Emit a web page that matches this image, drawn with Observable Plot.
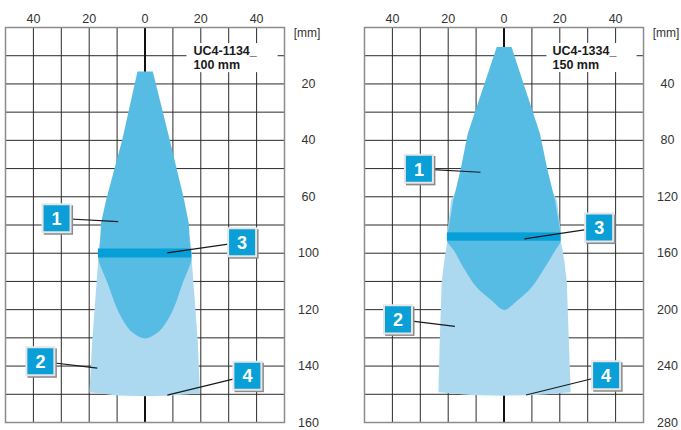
<!DOCTYPE html>
<html><head><meta charset="utf-8">
<script src="https://cdn.jsdelivr.net/npm/d3@7"></script>
<script src="https://cdn.jsdelivr.net/npm/@observablehq/plot@0.6"></script>
<style>
body{margin:0;background:#fff;}
#wrap{position:relative;width:681px;height:430px;}
#wrap > div{position:absolute;top:0;}
</style></head>
<body><div id="wrap"><div id="p1" style="left:0"></div><div id="p2" style="left:340px"></div></div>
<script>
// ---- shared axis data ----
const xTicks = [-40, -20, 0, 20, 40];
const xGrid = [-40, -30, -20, -10, 10, 20, 30, 40];

// ---- left panel (UC4-1134_, 100 mm) ----
const leftTitle = "UC4-1134_\n100 mm";
const leftYTicks = [20, 40, 60, 80, 100, 120, 140];
const leftYLabels = ["20", "40", "60", "100", "120", "140", "160"];
const leftYGrid = [10, 20, 30, 40, 50, 60, 70, 80, 90, 100, 110, 120, 130];
// dark zone (1) above the band
const leftDarkUpper = [
  [-2.7,15.6],[2.8,15.6],[8.9,40],[14.0,61],[15.7,69.5],[16.2,78.5],[16.7,80.5],
  [-16.7,80.5],[-16.2,78.5],[-15.8,69.5],[-13.9,61],[-8.2,40]
];
// dark zone (1) below the band
const leftDarkLower = [
  [-16,79.5],[16,79.5],[16.7,81.7],[13.4,90.9],[9.9,100.4],[6.3,106.3],[3.8,108.6],[0,110.2],
  [-3.8,108.6],[-6.2,106.3],[-9.7,100.4],[-13.3,90.9],[-16.7,81.7]
];
// light zone (2)
const leftLight = [
  [-14.3,64],[14.3,64],[16.7,78.5],[16.7,81.7],[18.9,111],[19.7,129.6],[10,130.4],
  [0,130.7],[-10,130.4],[-19.9,129.3],[-18.9,111],[-16.7,81.7],[-16.7,78.5]
];
const leftBand = [{x1:-16.7, x2:16.7, y1:78.5, y2:81.7}];
const leftTitleBox = [{x1:15.05, x2:47.7, y1:5.7, y2:16}];
const leftLabels = [
  {n:"1", x:-31.7, y:67.6, tx:-9.6, ty:68.8},
  {n:"2", x:-37.5, y:118.3, tx:-17.1, ty:120.7},
  {n:"3", x:34.8, y:76.1, tx:8.0, ty:79.9},
  {n:"4", x:36.7, y:123.4, tx:8.0, ty:130.3}
];

// ---- right panel (UC4-1334_, 150 mm) ----
const rightTitle = "UC4-1334_\n150 mm";
const rightYTicks = [40, 80, 120, 160, 200, 240, 280];
const rightYLabels = ["40", "80", "120", "160", "200", "240", "280"];
const rightYGrid = [20, 40, 60, 80, 100, 120, 140, 160, 180, 200, 220, 240, 260];
const rightDarkUpper = [
  [-2.6,13.9],[2.7,13.9],[12.9,75.4],[15.5,100.2],[18.3,122.7],[19.5,137],[20.3,145.6],
  [20.3,149],[-20.2,149],[-20.2,145.6],[-19.4,137],[-18.2,122.7],[-15.5,100.2],[-13.0,75.4]
];
const rightDarkLower = [
  [-19.5,147],[19.5,147],[20.3,151.5],[18.3,158.2],[14.7,170],[9.9,184.2],[4.8,193.6],
  [0,200.2],[-4.4,193.6],[-9.8,184.2],[-14.6,170],[-17.9,158.2],[-20.3,151.5]
];
const rightLight = [
  [-17,115],[17,115],[19,122.7],[20.4,145.6],[20.4,151.5],[21.6,165],[22.5,180],
  [23.2,220],[23.9,258.6],[12,260.5],[0,261],[-12,260.5],[-23.5,258.6],[-23,220],
  [-22.3,180],[-21.4,165],[-20.3,151.5],[-20.3,145.6],[-19,122.7]
];
const rightBand = [{x1:-20.3, x2:20.4, y1:145.6, y2:151.5}];
const rightTitleBox = [{x1:15.4, x2:47.7, y1:11.3, y2:31.9}];
const rightLabels = [
  {n:"1", x:-30.5, y:100.2, tx:-8.4, ty:102.6},
  {n:"2", x:-38.0, y:206.9, tx:-17.6, ty:211.8},
  {n:"3", x:34.1, y:141.8, tx:7.3, ty:149.9},
  {n:"4", x:36.6, y:246.5, tx:7.9, ty:260.5}
];

const FONT = "'Liberation Sans', Arial, Helvetica, sans-serif";
const DARK = "#57bce4", LIGHT = "#acd9f0", BAND = "#079fd8", BOX = "#0a9fd6";

function panel({width, marginLeft, marginRight, ymax, yTicks, yLabels, yGrid, darkUpper, darkLower, light, band, titleBox, title, labels}) {
  return Plot.plot({
    width, height: 430,
    marginLeft, marginRight, marginTop: 27, marginBottom: 8,
    x: {domain: [-50, 50], axis: null},
    y: {domain: [0, ymax], reverse: true, axis: null},
    style: {fontFamily: FONT, background: "#fff", overflow: "visible"},
    marks: [
      Plot.ruleX(xGrid, {stroke: "#2a2a2a", strokeWidth: 1}),
      Plot.ruleY(yGrid, {stroke: "#2a2a2a", strokeWidth: 1}),
      Plot.ruleX([0], {stroke: "#111", strokeWidth: 2}),
      Plot.frame({stroke: "#8c8c8c", strokeWidth: 1.5}),
      Plot.rect(titleBox, {x1: "x1", x2: "x2", y1: "y1", y2: "y2", fill: "#fff"}),
      Plot.text([title], {frameAnchor: "top-right", dx: -91, dy: 30, textAnchor: "start", lineAnchor: "middle",
        fontWeight: "bold", fontSize: 12.5, lineHeight: 1.15, fill: "#1a1a1a"}),
      Plot.line(light, {x: d => d[0], y: d => d[1], fill: LIGHT, stroke: "none", curve: "linear-closed"}),
      Plot.line(darkLower, {x: d => d[0], y: d => d[1], fill: DARK, stroke: "none", curve: "catmull-rom-closed"}),
      Plot.line(darkUpper, {x: d => d[0], y: d => d[1], fill: DARK, stroke: "none", curve: "linear-closed"}),
      Plot.rect(band, {x1: "x1", x2: "x2", y1: "y1", y2: "y2", fill: BAND}),
      Plot.link(labels, {x1: "x", y1: "y", x2: "tx", y2: "ty", stroke: "#1a1a1a", strokeWidth: 1.2}),
      Plot.dot(labels, {x: "x", y: "y", symbol: "square", r: 16.6, fill: "#8a8a8a", dx: 1.8, dy: 1.8, stroke: "none"}),
      Plot.dot(labels, {x: "x", y: "y", symbol: "square", r: 15.8, fill: BOX, stroke: "#e6e6e6", strokeWidth: 2}),
      Plot.text(labels, {x: "x", y: "y", text: "n", fill: "#fff", fontSize: 18, fontWeight: "bold", dy: 1}),
      Plot.text(xTicks, {x: d => d, text: d => String(Math.abs(d)), frameAnchor: "top", dy: -13, fontSize: 12.5, fill: "#333"}),
      Plot.text(yTicks, {y: d => d, text: (d, i) => yLabels[i], frameAnchor: "right", dx: 24, textAnchor: "middle", fontSize: 12.5, fill: "#333"}),
      Plot.text(["[mm]"], {frameAnchor: "top-right", dx: 22.5, dy: 1, textAnchor: "middle", fontSize: 12, fill: "#333"})
    ]
  });
}

document.getElementById("p1").append(panel({
  width: 340, marginLeft: 5, marginRight: 56, ymax: 140,
  yTicks: leftYTicks, yLabels: leftYLabels, yGrid: leftYGrid,
  darkUpper: leftDarkUpper, darkLower: leftDarkLower, light: leftLight, band: leftBand,
  titleBox: leftTitleBox, title: leftTitle, labels: leftLabels
}));
document.getElementById("p2").append(panel({
  width: 341, marginLeft: 24, marginRight: 38, ymax: 280,
  yTicks: rightYTicks, yLabels: rightYLabels, yGrid: rightYGrid,
  darkUpper: rightDarkUpper, darkLower: rightDarkLower, light: rightLight, band: rightBand,
  titleBox: rightTitleBox, title: rightTitle, labels: rightLabels
}));
</script>
</body></html>
